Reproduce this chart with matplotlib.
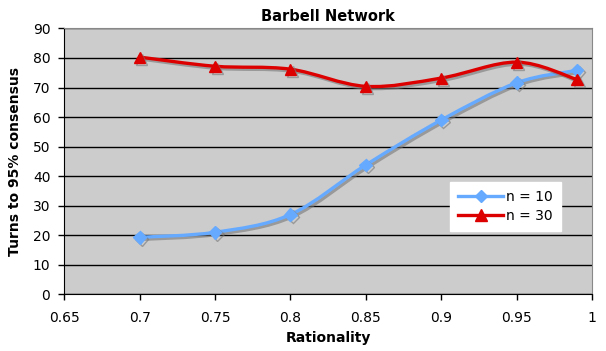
import numpy as np
import matplotlib
matplotlib.use("Agg")
import matplotlib.pyplot as plt
import matplotlib.patheffects as pe
from matplotlib.path import Path
from matplotlib.patches import PathPatch
from matplotlib.lines import Line2D

rationality = [0.7, 0.75, 0.8, 0.85, 0.9, 0.95, 0.99]
n10 = [19.3, 21.0, 27.0, 43.8, 59.0, 71.6, 75.8]
n30 = [80.3, 77.2, 76.2, 70.4, 73.2, 78.6, 72.7]

blue = "#66AAFF"
red = "#DD0000"


def smooth_path(x, y, t=1 / 6):
    # Excel-style smoothed line: Catmull-Rom converted to cubic Bezier segments
    x = np.asarray(x, float)
    y = np.asarray(y, float)
    verts = [(x[0], y[0])]
    codes = [Path.MOVETO]
    n = len(x)
    for i in range(n - 1):
        p0 = (x[max(i - 1, 0)], y[max(i - 1, 0)])
        p1 = (x[i], y[i])
        p2 = (x[i + 1], y[i + 1])
        p3 = (x[min(i + 2, n - 1)], y[min(i + 2, n - 1)])
        c1 = (p1[0] + (p2[0] - p0[0]) * t, p1[1] + (p2[1] - p0[1]) * t)
        c2 = (p2[0] - (p3[0] - p1[0]) * t, p2[1] - (p3[1] - p1[1]) * t)
        verts += [c1, c2, p2]
        codes += [Path.CURVE4] * 3
    return Path(verts, codes)


shadow = [pe.SimpleLineShadow(offset=(1.5, -1.5), shadow_color="#777777", alpha=0.6), pe.Normal()]

fig = plt.figure(figsize=(6.06, 3.51), dpi=100)
ax = fig.add_axes([0.106, 0.1615, 0.871, 0.7575])
ax.set_facecolor("#CCCCCC")

for ys, col, mk, ms in [(n10, blue, "D", 6.5), (n30, red, "^", 8)]:
    patch = PathPatch(smooth_path(rationality, ys), fill=False, edgecolor=col,
                      lw=2.4, zorder=3, path_effects=shadow, capstyle="round")
    ax.add_patch(patch)
    ax.plot(rationality, ys, linestyle="none", marker=mk, markersize=ms,
            color=col, markeredgecolor=col, zorder=4, path_effects=shadow)

ax.set_xlim(0.65, 1.0)
ax.set_ylim(0, 90)
ax.set_xticks(np.arange(0.65, 1.001, 0.05))
ax.set_xticklabels(["0.65", "0.7", "0.75", "0.8", "0.85", "0.9", "0.95", "1"])
ax.set_yticks(range(0, 91, 10))
ax.yaxis.grid(True, color="black", lw=1)
ax.set_axisbelow(True)
ax.tick_params(direction="out", length=4, width=1, labelsize=10, pad=6)
ax.tick_params(axis="x", pad=8)

for s in ["top", "right"]:
    ax.spines[s].set_color("#888888")
ax.spines["left"].set_color("black")
ax.spines["bottom"].set_color("black")

ax.set_title("Barbell Network", fontsize=10.5, fontweight="bold", pad=5)
ax.set_xlabel("Rationality", fontsize=10, fontweight="bold", labelpad=4)
ax.set_ylabel("Turns to 95% consensus", fontsize=10, fontweight="bold", labelpad=8)

handles = [
    Line2D([], [], color=blue, lw=2.4, marker="D", markersize=6.5, markeredgecolor=blue),
    Line2D([], [], color=red, lw=2.4, marker="^", markersize=8, markeredgecolor=red),
]
leg = ax.legend(handles, ["n = 10", "n = 30"], loc="upper left",
                bbox_to_anchor=(0.731, 0.423), fontsize=10, frameon=True,
                fancybox=False, handlelength=3.2, handletextpad=0.2,
                borderpad=0.6, labelspacing=0.35, borderaxespad=0)
leg.get_frame().set_facecolor("white")
leg.get_frame().set_edgecolor("white")
leg.get_frame().set_alpha(1)

fig.savefig("out.png", dpi=100)
